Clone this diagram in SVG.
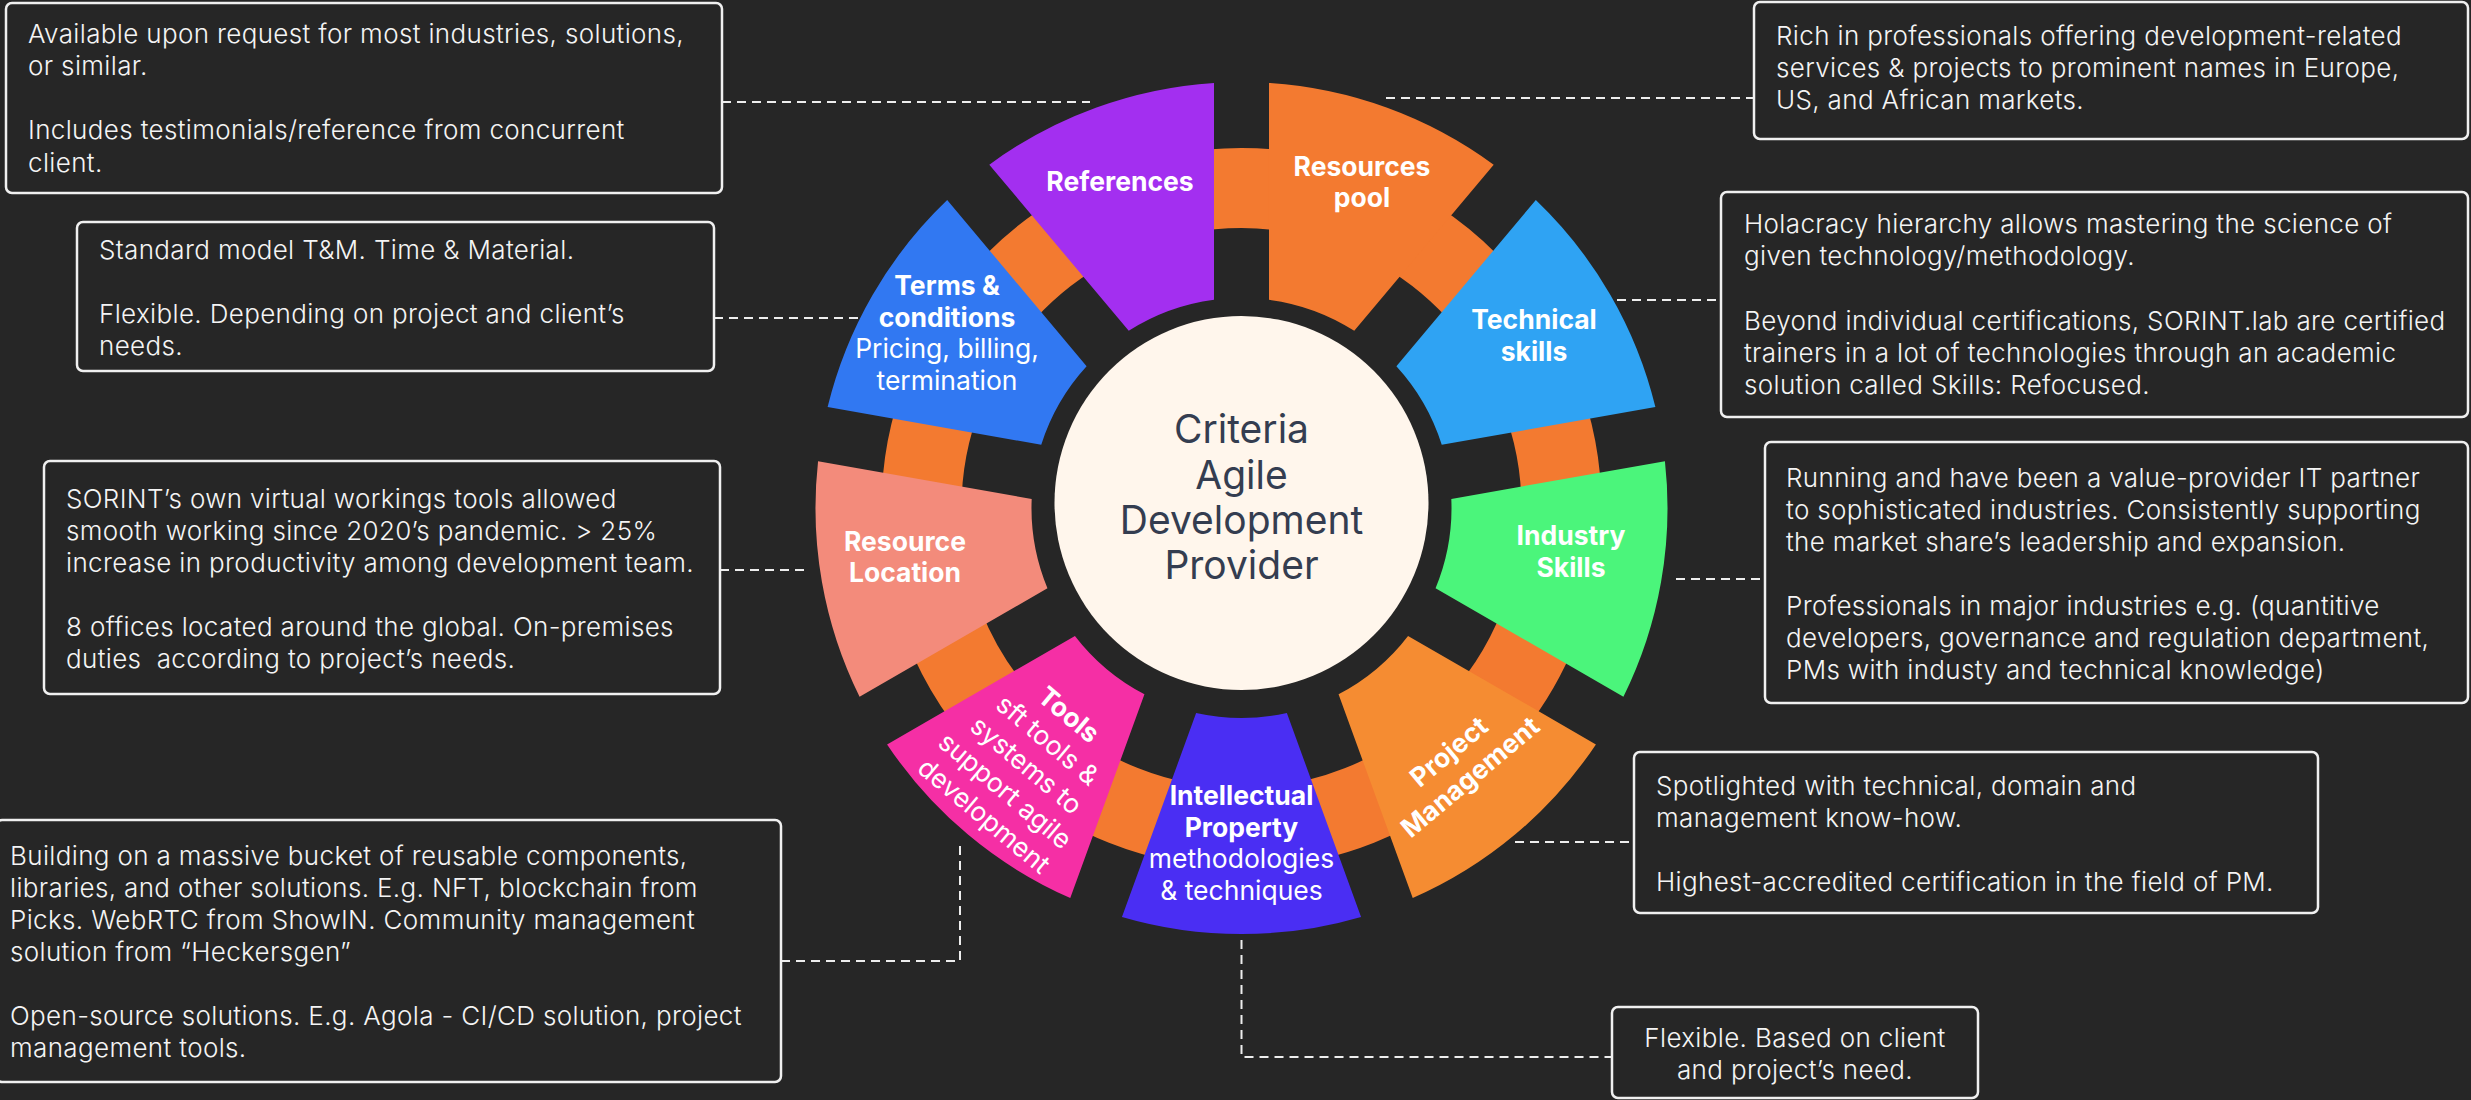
<svg xmlns="http://www.w3.org/2000/svg" xmlns:xlink="http://www.w3.org/1999/xlink" width="2471" height="1100" viewBox="0 0 2471 1100">
<defs>
<style>
.box{fill:#262626;stroke:#F0F0F0;stroke-width:2.5}
.desc{font-family:Inter,"Noto Sans","Liberation Sans",sans-serif;font-size:26px;font-weight:300;letter-spacing:0.35px;fill:#F4F4F4}
.lbl{font-family:Inter,"Noto Sans","Liberation Sans",sans-serif;font-size:26.5px;font-weight:700;fill:#FFFFFF;text-anchor:middle}
.reg{font-weight:400}
.conn{fill:none;stroke:#EDEDED;stroke-width:2;stroke-dasharray:9 6}
.ctr{font-family:Inter,"Noto Sans","Liberation Sans",sans-serif;font-size:39px;font-weight:400;fill:#343D50;text-anchor:middle}
</style>
<path id="seg" d="M -119.56,-408.89 A 426 426 0 0 1 119.56,-408.89 L 45.37,-205.05 A 210 210 0 0 0 -45.37,-205.05 Z"/>
</defs>
<rect x="0" y="0" width="2471" height="1100" fill="#262626"/>

<g id="connectors">
<path class="conn" d="M722,102 H1090"/>
<path class="conn" d="M1386,98 H1754"/>
<path class="conn" d="M714,318 H858"/>
<path class="conn" d="M1617,300 H1721"/>
<path class="conn" d="M720,570 H806"/>
<path class="conn" d="M1676,579 H1765"/>
<path class="conn" d="M1515,842 H1634"/>
<path class="conn" d="M781,961 H960 V840"/>
<path class="conn" d="M1241.5,940 V1057 H1612"/>
</g>

<g id="ring">
<circle cx="1241.5" cy="508" r="320" fill="none" stroke="#F37A30" stroke-width="80"/>
</g>

<g id="center">
<circle cx="1241.5" cy="503" r="187" fill="#FFF6EC"/>
<text class="ctr"><tspan x="1241.5" y="443">Criteria</tspan><tspan x="1241.5" y="489">Agile</tspan><tspan x="1241.5" y="534">Development</tspan><tspan x="1241.5" y="579">Provider</tspan></text>
</g>

<g id="resources-pool">
<use xlink:href="#seg" href="#seg" transform="translate(1241.5,508) rotate(20)" fill="#F37A30"/>
<text class="lbl"><tspan x="1362" y="176">Resources</tspan><tspan x="1362" y="207">pool</tspan></text>
</g>
<g id="technical-skills">
<use xlink:href="#seg" href="#seg" transform="translate(1241.5,508) rotate(60)" fill="#2FA3F3"/>
<text class="lbl"><tspan x="1534" y="329">Technical</tspan><tspan x="1534" y="361">skills</tspan></text>
</g>
<g id="industry-skills">
<use xlink:href="#seg" href="#seg" transform="translate(1241.5,508) rotate(100)" fill="#4BF57B"/>
<text class="lbl"><tspan x="1571" y="545">Industry</tspan><tspan x="1571" y="577">Skills</tspan></text>
</g>
<g id="project-management">
<use xlink:href="#seg" href="#seg" transform="translate(1241.5,508) rotate(140)" fill="#F58C32"/>
<g transform="translate(1460,765) rotate(-40)">
<text class="lbl"><tspan x="0" y="-8">Project</tspan><tspan x="0" y="25">Management</tspan></text>
</g>
</g>
<g id="intellectual-property">
<use xlink:href="#seg" href="#seg" transform="translate(1241.5,508) rotate(180)" fill="#4A2EF3"/>
<text class="lbl"><tspan x="1241.5" y="805">Intellectual</tspan><tspan x="1241.5" y="837">Property</tspan><tspan class="reg" x="1241.5" y="868">methodologies</tspan><tspan class="reg" x="1241.5" y="900">&amp; techniques</tspan></text>
</g>
<g id="tools">
<use xlink:href="#seg" href="#seg" transform="translate(1241.5,508) rotate(220)" fill="#F52FA5"/>
<g transform="translate(1025,767) rotate(40)">
<text class="lbl"><tspan x="0" y="-59">Tools</tspan><tspan class="reg" x="0" y="-26">sft tools &amp;</tspan><tspan class="reg" x="0" y="7">systems to</tspan><tspan class="reg" x="0" y="40">support agile</tspan><tspan class="reg" x="0" y="73">development</tspan></text>
</g>
</g>
<g id="resource-location">
<use xlink:href="#seg" href="#seg" transform="translate(1241.5,508) rotate(260)" fill="#F38B7B"/>
<text class="lbl"><tspan x="905" y="551">Resource</tspan><tspan x="905" y="582">Location</tspan></text>
</g>
<g id="terms-conditions">
<use xlink:href="#seg" href="#seg" transform="translate(1241.5,508) rotate(300)" fill="#3178F2"/>
<text class="lbl"><tspan x="947" y="295">Terms &amp;</tspan><tspan x="947" y="327">conditions</tspan><tspan class="reg" x="947" y="358">Pricing, billing,</tspan><tspan class="reg" x="947" y="390">termination</tspan></text>
</g>
<g id="references">
<use xlink:href="#seg" href="#seg" transform="translate(1241.5,508) rotate(340)" fill="#A32FF0"/>
<text class="lbl"><tspan x="1120" y="191">References</tspan></text>
</g>

<g id="desc-references">
<rect class="box" x="6" y="3" width="716" height="190" rx="6"/>
<text class="desc"><tspan x="28" y="43">Available upon request for most industries, solutions,</tspan><tspan x="28" y="75">or similar.</tspan><tspan x="28" y="139">Includes testimonials/reference from concurrent</tspan><tspan x="28" y="172">client.</tspan></text>
</g>
<g id="desc-terms">
<rect class="box" x="77" y="222" width="637" height="149" rx="6"/>
<text class="desc"><tspan x="99" y="259">Standard model T&amp;M. Time &amp; Material.</tspan><tspan x="99" y="323">Flexible. Depending on project and client’s</tspan><tspan x="99" y="355">needs.</tspan></text>
</g>
<g id="desc-resources-pool">
<rect class="box" x="1754" y="2" width="714" height="137" rx="6"/>
<text class="desc"><tspan x="1776" y="45">Rich in professionals offering development-related</tspan><tspan x="1776" y="77">services &amp; projects to prominent names in Europe,</tspan><tspan x="1776" y="109">US, and African markets.</tspan></text>
</g>
<g id="desc-technical-skills">
<rect class="box" x="1721" y="192" width="747" height="225" rx="6"/>
<text class="desc"><tspan x="1744" y="233">Holacracy hierarchy allows mastering the science of</tspan><tspan x="1744" y="265">given technology/methodology.</tspan><tspan x="1744" y="330">Beyond individual certifications, SORINT.lab are certified</tspan><tspan x="1744" y="362">trainers in a lot of technologies through an academic</tspan><tspan x="1744" y="394">solution called Skills: Refocused.</tspan></text>
</g>
<g id="desc-resource-location">
<rect class="box" x="44" y="461" width="676" height="233" rx="6"/>
<text class="desc"><tspan x="66" y="508">SORINT’s own virtual workings tools allowed</tspan><tspan x="66" y="540">smooth working since 2020’s pandemic. &gt; 25%</tspan><tspan x="66" y="572">increase in productivity among development team.</tspan><tspan x="66" y="636">8 offices located around the global. On-premises</tspan><tspan x="66" y="668" xml:space="preserve">duties  according to project’s needs.</tspan></text>
</g>
<g id="desc-industry-skills">
<rect class="box" x="1765" y="442" width="703" height="261" rx="6"/>
<text class="desc"><tspan x="1786" y="487">Running and have been a value-provider IT partner</tspan><tspan x="1786" y="519">to sophisticated industries. Consistently supporting</tspan><tspan x="1786" y="551">the market share’s leadership and expansion.</tspan><tspan x="1786" y="615">Professionals in major industries e.g. (quantitive</tspan><tspan x="1786" y="647">developers, governance and regulation department,</tspan><tspan x="1786" y="679">PMs with industy and technical knowledge)</tspan></text>
</g>
<g id="desc-tools">
<rect class="box" x="-4" y="820" width="785" height="262" rx="6"/>
<text class="desc"><tspan x="10" y="865">Building on a massive bucket of reusable components,</tspan><tspan x="10" y="897">libraries, and other solutions. E.g. NFT, blockchain from</tspan><tspan x="10" y="929">Picks. WebRTC from ShowIN. Community management</tspan><tspan x="10" y="961">solution from “Heckersgen”</tspan><tspan x="10" y="1025">Open-source solutions. E.g. Agola - CI/CD solution, project</tspan><tspan x="10" y="1057">management tools.</tspan></text>
</g>
<g id="desc-project-management">
<rect class="box" x="1634" y="752" width="684" height="161" rx="6"/>
<text class="desc"><tspan x="1656" y="795">Spotlighted with technical, domain and</tspan><tspan x="1656" y="827">management know-how.</tspan><tspan x="1656" y="891">Highest-accredited certification in the field of PM.</tspan></text>
</g>
<g id="desc-intellectual-property">
<rect class="box" x="1612" y="1007" width="366" height="91" rx="6"/>
<text class="desc" text-anchor="middle"><tspan x="1795" y="1047">Flexible. Based on client</tspan><tspan x="1795" y="1079">and project’s need.</tspan></text>
</g>
</svg>
